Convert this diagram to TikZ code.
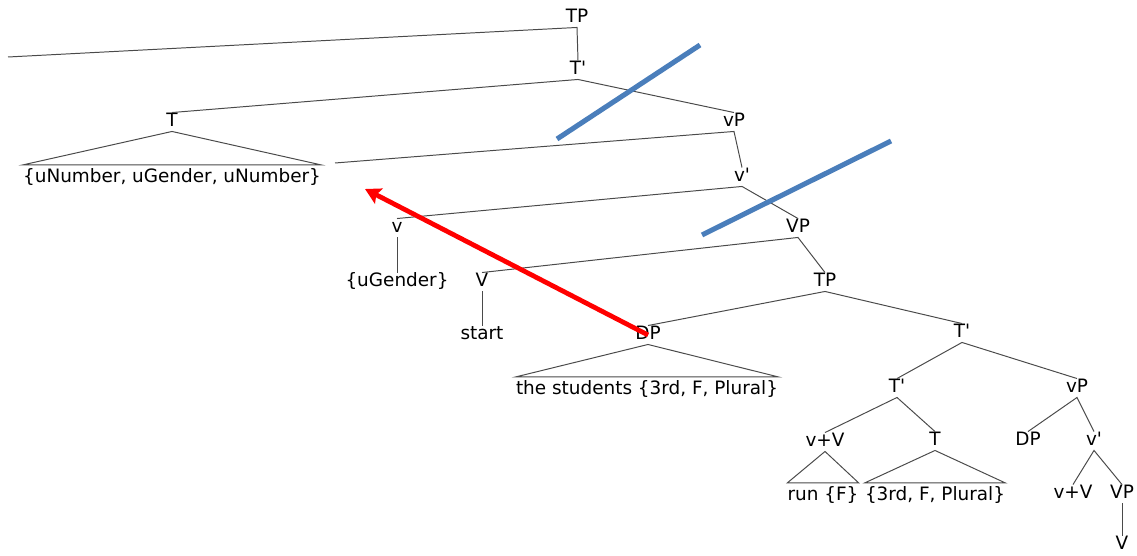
\documentclass[tikz,border=0pt]{standalone}
\usepackage{fontspec}
\setmainfont{DejaVu Sans}
\usepackage{tikz}
\usetikzlibrary{arrows.meta,positioning}
\definecolor{cbranch}{HTML}{4A4A4A}
\definecolor{cstrike}{HTML}{4A7EBB}
\definecolor{cmove}{HTML}{FF0000}
\newcommand{\pr}{\textquotesingle}

\begin{document}
\begin{tikzpicture}[
  x=0.025cm,y=-0.025cm,
  font=\fontsize{13.1pt}{15pt}\selectfont,
  lbl/.style={inner sep=1.2pt,text height=1.6ex,text depth=0.35ex},
  leaf/.style={inner sep=0pt,text height=2.2ex,text depth=0.35ex},
  br/.style={draw=cbranch,line width=0.7pt},
  strike/.style={draw=cstrike,line width=3.6pt},
  mv/.style={-{Stealth[length=11pt,width=12pt,inset=2pt]},draw=cmove,line width=3.4pt}]
  \useasboundingbox (0,0) rectangle (1137,556);
  % main spine
  \node[lbl] (tp) at (577,18) {TP};
  \coordinate (spec) at (8,57);
  \node[lbl] (tbar) at (578,70) {T\pr};
  \node[lbl] (t) at (172,122) {T};
  \node[leaf] (tfeat) at (172,175) {\{uNumber, uGender, uNumber\}};
  \node[lbl] (vp) at (734,122) {vP};
  \coordinate (gap) at (335,163);
  \node[lbl] (vbar) at (742,177) {v\pr};
  \node[lbl] (v) at (397,228) {v};
  \node[lbl] (vfeat) at (397,282) {\{uGender\}};
  \node[lbl] (vpp) at (798,228) {VP};
  \node[lbl] (verb) at (482,282) {V};
  \node[lbl] (start) at (482,335) {start};
  \node[lbl] (tp2) at (825,282) {TP};
  \node[lbl] (dp) at (648,335) {DP};
  \node[leaf] (dptxt) at (647,387) {the students \{3rd, F, Plural\}};
  % embedded clause
  \node[lbl] (tbar2) at (962,333) {T\pr};
  \node[lbl] (tbar3) at (897,388) {T\pr};
  \node[lbl] (vv) at (825,442) {v+V};
  \node[leaf] (run) at (823,493) {run \{F\}};
  \node[lbl] (t2) at (935,441) {T};
  \node[leaf] (tfeat2) at (935,493) {\{3rd, F, Plural\}};
  \node[lbl] (vp3) at (1077,388) {vP};
  \node[lbl] (dp2) at (1028,441) {DP};
  \node[lbl] (vbar2) at (1094,441) {v\pr};
  \node[lbl] (vv2) at (1073,494) {v+V};
  \node[lbl] (vp4) at (1122,494) {VP};
  \node[lbl] (v3) at (1122,545) {V};
  % branches
  \draw[br] (spec) -- (tp.south) -- (tbar.north);
  \draw[br] (t.north) -- (tbar.south) -- (vp.north);
  \draw[br] (gap) -- (vp.south) -- (vbar.north);
  \draw[br] (v.north) -- (vbar.south) -- (vpp.north);
  \draw[br] (v.south) -- (vfeat.north);
  \draw[br] (verb.north) -- (vpp.south) -- (tp2.north);
  \draw[br] (verb.south) -- (start.north);
  \draw[br] (dp.north) -- (tp2.south) -- (tbar2.north);
  \draw[br] (tbar3.north) -- (tbar2.south) -- (vp3.north);
  \draw[br] (vv.north) -- (tbar3.south) -- (t2.north);
  \draw[br] (dp2.north) -- (vp3.south) -- (vbar2.north);
  \draw[br] (vv2.north) -- (vbar2.south) -- (vp4.north);
  \draw[br] (vp4.south) -- (v3.north);
  % triangles
  \draw[br] (t.south) -- (tfeat.north west) -- (tfeat.north east) -- cycle;
  \draw[br] (dp.south) -- (dptxt.north west) -- (dptxt.north east) -- cycle;
  \draw[br] (vv.south) -- (run.north west) -- (run.north east) -- cycle;
  \draw[br] (t2.south) -- (tfeat2.north west) -- (tfeat2.north east) -- cycle;
  % strike-outs
  \coordinate (s1a) at (557,139);
  \coordinate (s1b) at (700,45);
  \coordinate (s2a) at (702,235);
  \coordinate (s2b) at (891,141);
  \draw[strike] (s1a) -- (s1b);
  \draw[strike] (s2a) -- (s2b);
  % movement
  \coordinate (goal) at (365,189);
  \draw[mv] (dp.center) -- (goal);
\end{tikzpicture}
\end{document}
